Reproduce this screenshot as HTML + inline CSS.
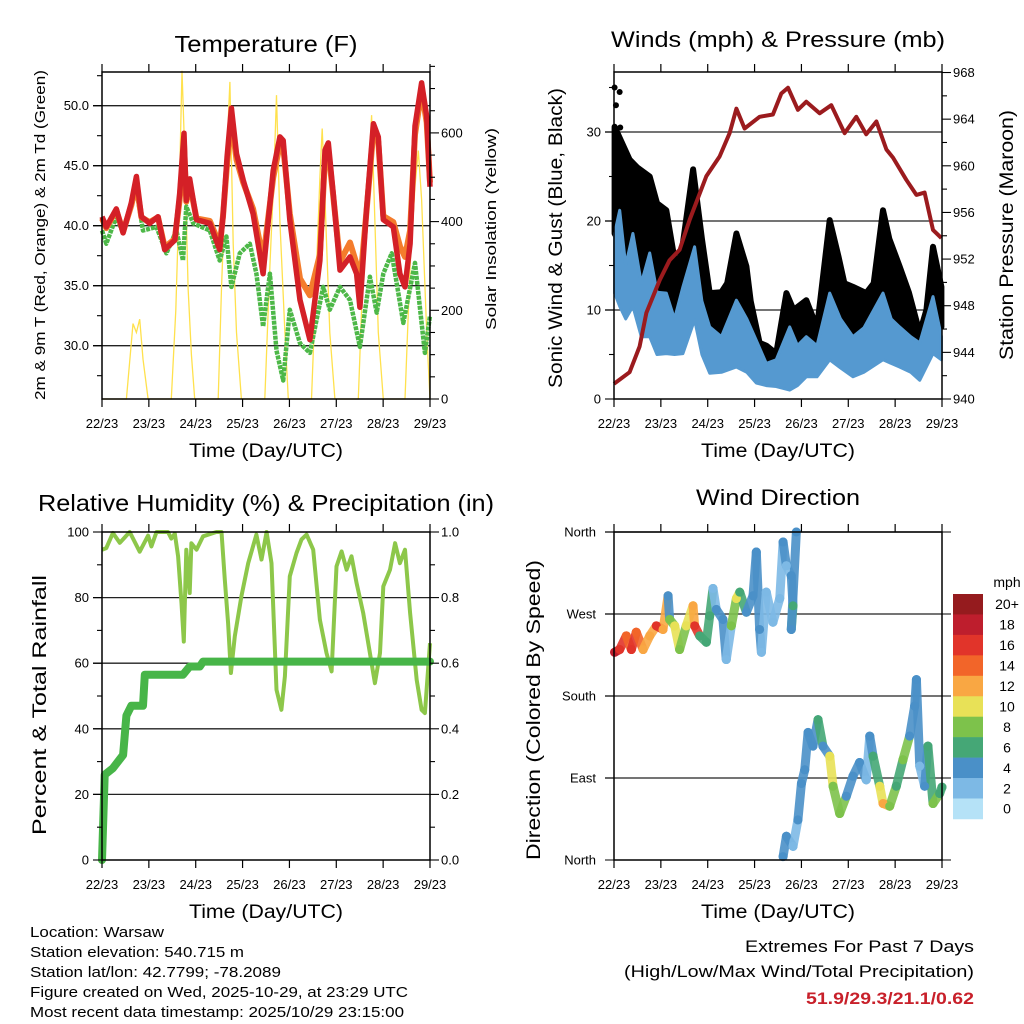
<!DOCTYPE html>
<html><head><meta charset="utf-8"><style>
html,body{margin:0;padding:0;background:#fff;}
svg{display:block;font-family:"Liberation Sans",Arial,sans-serif;}
</style></head><body>
<svg id="c" width="1024" height="1024" viewBox="0 0 1024 1024" xmlns="http://www.w3.org/2000/svg"></svg>
<script>
// ---------- DATA ----------
var dayLabels = ["22/23","23/23","24/23","25/23","26/23","27/23","28/23","29/23"];
// Temperature panel
var tempHours = [0,2.2,7.3,10.8,15.0,17.6,20.2,24.4,28.7,32.1,37.3,39.8,42.0,43.2,44.9,48.4,55.2,60.3,62.0,64.1,66.3,68.9,72.3,77.4,82.5,87.7,91.1,92.8,96.2,101.4,106.5,111.6,114.2,115.9,118.4,121.9,127.0,130.4,132.1,135.5,139.0,141.5,144.1,149.2,152.6,155.2,157.8,160.3,163.7,166.3,168];
var temp2m = [40.75,39.9,41.4,39.4,41.9,44.1,40.75,40.2,40.75,38.0,38.8,42.7,47.7,42.1,43.9,40.5,40.2,38.0,40.75,45.75,49.8,46.0,43.8,41.0,36.0,44.6,47.4,47.1,40.5,33.8,30.5,37.1,46.3,46.9,42.7,36.3,37.4,36.0,33.2,41.3,48.5,47.4,40.5,39.9,36.0,34.9,38.5,48.3,51.9,49.1,43.25];
var temp9m = [40.6,39.8,41.3,39.5,41.7,43.5,40.7,40.3,40.7,38.2,38.9,42.2,46.8,42.0,43.5,40.6,40.4,38.4,40.8,45.2,48.9,45.5,43.6,41.4,37.2,44.0,46.8,46.6,41.0,35.6,34.2,37.6,45.6,46.3,42.5,37.0,38.6,36.8,35.0,41.2,47.9,47.0,40.8,40.3,38.3,37.4,39.6,47.6,51.3,48.6,43.6];
var dewHours = [0,2.2,7.3,10.8,15,17.6,21,27.9,33,38.1,41.5,43.2,46.7,55.2,60.3,63.7,66.3,70.6,75.7,79.1,82.5,86,89.4,92.8,96.2,101.4,106.5,113.3,116.7,121.9,127,132.1,137.2,140.7,144.1,148.4,154.3,160.3,165.4,168];
var dewpoint = [39.6,38.5,40.75,39.4,41.9,43.0,39.6,39.9,37.7,39.6,37.1,41.6,40.2,39.6,37.1,39.1,34.9,37.7,38.5,36.0,31.6,36.0,29.6,27.1,33.0,30.2,29.4,34.9,33.0,34.9,33.8,29.9,35.75,32.75,36.0,37.7,31.9,36.9,29.4,32.5];
var solarHours = [0,12.5,14.5,15.9,17.6,19.3,21,23.6,35.5,37.8,39.5,41,42.4,44.1,45.8,47.5,59.5,61.2,62.9,65.5,67.2,68.9,71.4,83.4,86,88,89.4,91.1,93.7,95.4,107.3,109.9,111.6,112.8,114.2,116.7,119.3,131.3,133.8,136.4,138.1,139.8,141.5,144.1,155.2,157.8,160.3,162,163.7,166.3,168];
var solar = [0,0,100,170,150,180,90,0,0,200,450,740,550,250,100,0,0,250,450,715,350,150,0,0,300,500,685,400,150,0,0,300,500,610,450,150,0,0,300,500,640,400,150,0,0,300,480,560,450,150,0];
// Winds panel
var sustHours = [0.3,2.9,6,9.7,14,18.3,22,26.8,31,35.3,41.3,45,49,55,62.7,68,72.9,78,83.1,90,94,98.5,104,110.5,116,122.4,128,137.8,142,146.3,152,156.6,163.4,167.7];
var sustHigh = [18.6,21.2,15,18.6,13,16.4,12,11.9,9,12.6,17.1,11,8.1,7,11.1,9,6.6,4,4.4,8.1,6,7,6,11.9,9,7,8,11.9,9,8.1,7,6.3,11.5,7];
var sustLow = [11.9,10.4,9,10.4,7,7,5,5.1,5,5.1,8.9,5,2.9,3,3.6,3,1.8,1.5,1.4,1,1.5,2.5,2.5,4.4,3.5,2.5,3,4.4,4,3.6,3,2.1,5.1,4.4];
var gustHours = [0.3,8,12,18.3,22,26.8,31.9,35,40.5,45,49,55,58,62.7,67.8,70,74.6,78,83.1,88.3,92,98.5,104,110.5,115,118,122.4,129.2,133,137.8,141,146.3,151,156.6,160,163.4,167.7];
var gustHigh = [30.6,26.9,26,25,22,21.2,14.5,17,25.8,18,11.9,12,13,18.6,14.9,11,6.3,6,5.1,11.9,10,11.1,8,20.1,16,13,12.6,11.9,13,21.2,18,14.9,12,7.4,10,17.1,12.6];
var gustLow = [18.6,15.6,13,11.9,10,9.6,8.9,9,12.6,8,6.3,6,6,8.1,7.5,5,2.5,2.2,2.1,4.4,4,5.5,4.5,10,8,7,6.3,6,7,11.1,10,8.1,7,4.5,5,9.6,8.1];
var gustOutHours = [0.3,2.9,3.2,1.0];
var gustOut = [35,34.5,30.5,33.0];
var presHours = [0,8,13.1,16.6,23.4,28.5,33.6,38.8,47.3,54.1,59.2,62.7,66.9,74.6,81.4,85.7,89.1,94.2,98.5,105.3,111.3,118.1,124.1,129.2,134.4,139.5,142.9,149.7,154.9,159.1,163.4,167.7];
var pressure = [941.3,942.3,944.5,947.4,950.2,951.9,952.8,955.4,959.1,960.8,962.8,964.9,963.2,964.2,964.4,966.2,966.7,964.8,965.5,964.5,965.2,962.8,964.2,962.7,963.8,961.4,960.7,958.8,957.5,957.7,954.5,953.8];
// RH panel
var rhHours = [0,2.2,5.6,9.1,14.2,19.3,23.6,25.3,27.9,33.8,35.5,37.3,39,40.7,41.9,43.2,44.9,45.8,48.4,51.8,58.6,61.2,62.9,64.6,66,68,71.4,74.9,79.1,81.7,84.3,86.8,89.4,91.9,93.7,96.2,99.6,102.2,104.8,108.2,111.6,115,117.6,120.1,122.7,125.3,127.8,130.4,133.8,137.2,139.8,142.4,144.1,147.5,150.1,152.6,155.2,157.8,161.2,163.7,165.4,168];
var rh = [94.6,95.1,99.7,96.7,100,94,98.9,95.6,100,100,98,99.5,92.6,78.3,66.6,94.6,81.4,96.6,94.6,98.7,100,100,85.5,72.2,57,68.2,80.4,90.5,99.2,91.6,100,90.5,51.9,45.8,56,86.5,93.6,97.7,99.2,94.6,73.2,63.1,57.5,89.5,94.1,88.5,92.6,84.4,75.3,63.1,53.9,63.1,83.4,88.5,96.6,90.5,94.6,75.3,54.9,45.8,44.8,66.1];
var precipHours = [0,1.4,5.6,10.8,12.5,15,21,21.9,41.5,44.9,50.1,51.8,168];
var precip = [0,0.26,0.28,0.32,0.44,0.47,0.47,0.565,0.565,0.59,0.59,0.605,0.605];
// Wind direction panel (two segments)
var dirHoursA = [0.3,2.9,6.3,8.9,11.4,14.9,18.3,21.7,25.1,27.7,28.5,31.1,33.6,37,40.5,41.3,43.9,47.3,49,50.7,52.4,55.8,57.5,60.1,62.7,64.4,67.8,71.2,72.9,74.6,75.5,78,81.4,84.9,86.6,88.3,90.8,91.7,90.8,93.4];
var dirA = [228,231,246,231,250,231,246,257,253,290,264,257,231,257,279,257,246,239,268,298,275,264,220,257,287,294,272,290,338,253,228,294,261,287,349,323,312,279,253,360];
var spdA = [19,16,14,17,14,12,13,16,12,4,8,10,9,10,12,16,7,7,6,3,4,4,3,8,10,6,5,4,4,4,3,2,2,2,4,3,4,6,5,4];
var dirHoursB = [86.6,88.3,91.7,94.2,96.0,97.7,99.4,101.9,104.5,107,110.5,112.2,115.6,119,122.4,125.8,129.2,131,132.7,136.1,137.8,141.2,144.6,148,151.4,154,154.9,156.6,159.1,160.8,163.4,166.8,168];
var dirB = [3.7,26,15,44,84,99,140,125,154,125,114,81,51,70,92,107,88,136,114,81,62,59,81,110,136,169,198,103,81,125,62,73,80];
var spdB = [4,4,3,4,4,4,4,4,6,4,10,8,9,5,4,4,3,4,6,10,13,9,6,8,5,4,4,3,4,7,8,6,6];
var cbLabels = ["0","2","4","6","8","10","12","14","16","18","20+"];
var cbColors = ["#B5E2F7","#7DB9E5","#4A90C8","#45A776","#7DC24B","#E8E157","#F9A743","#F26529","#E1342A","#BE1E2D","#951B1E"];

// ---------- HELPERS ----------
var NS="http://www.w3.org/2000/svg", svg=document.getElementById('c');
function el(tag, attrs, parent){var e=document.createElementNS(NS,tag);for(var k in attrs)e.setAttribute(k,attrs[k]);(parent||svg).appendChild(e);return e;}
function txt(s, attrs, parent){var e=el('text',attrs,parent);e.textContent=s;return e;}
function pathOf(xs, ys, fx, fy){var d='';for(var i=0;i<xs.length;i++){d+=(i?'L':'M')+fx(xs[i]).toFixed(1)+' '+fy(ys[i]).toFixed(1);}return d;}
function bandOf(xs, hi, lo, fx, fy){var d='';for(var i=0;i<xs.length;i++)d+=(i?'L':'M')+fx(xs[i]).toFixed(1)+' '+fy(hi[i]).toFixed(1);for(var j=xs.length-1;j>=0;j--)d+='L'+fx(xs[j]).toFixed(1)+' '+fy(lo[j]).toFixed(1);return d+'Z';}
function spdColor(s){var i=Math.min(10,Math.max(0,Math.floor(s/2)));return cbColors[i];}

function panel(opt){
  var g=el('g',{});
  
  
  var L=opt.L,R=opt.R;
  opt.grid.forEach(function(y){var l=el('line',{x1:L-9,x2:R,y1:y,y2:y,stroke:'#222','stroke-width':1.3},g);});
  return g;
}
function frame(g,L,R,T,B){
  var r=el('rect',{x:L,y:T,width:R-L,height:B-T,fill:'none',stroke:'#000','stroke-width':1.5},g);
  
  var xs=function(h){return L+h*(R-L)/168;};
  for(var d=0;d<8;d++){var x=xs(d*24);
    el('line',{x1:x,x2:x,y1:B,y2:B+8,stroke:'#000','stroke-width':1.2},g);
    el('line',{x1:x,x2:x,y1:T,y2:T-8,stroke:'#000','stroke-width':1.2},g);
    var t=txt(dayLabels[d],{x:x,y:B+29,'font-size':13,'text-anchor':'middle'},g);
    
  }
}
function leftTicks(g,L,vals,fy,fmt,major){vals.forEach(function(v){var y=fy(v);var mj=major(v);el('line',{x1:L-(mj?9:5),x2:L,y1:y,y2:y,stroke:'#000','stroke-width':1.1},g);if(mj){var t=txt(fmt(v),{x:L-13,y:y+4.5,'font-size':13,'text-anchor':'end'},g);}});}
function rightTicks(g,R,vals,fy,fmt,major){vals.forEach(function(v){var y=fy(v);var mj=major(v);el('line',{x1:R,x2:R+(mj?9:5),y1:y,y2:y,stroke:'#000','stroke-width':1.1},g);if(mj){var t=txt(fmt(v),{x:R+11,y:y+4.5,'font-size':13,'text-anchor':'start'},g);}});}
function title(s,x,y,len,size,name){var t=txt(s,{x:x,y:y,'font-size':size,'text-anchor':'middle',textLength:len,lengthAdjust:'spacingAndGlyphs'});return t;}
function vtitle(s,x,y,len,size,name){var t=txt(s,{x:0,y:0,'font-size':size,'text-anchor':'middle',textLength:len,lengthAdjust:'spacingAndGlyphs',transform:'translate('+x+','+y+') rotate(-90)'});return t;}

// ---------- PANEL 1: TEMPERATURE ----------
(function(){
  var L=102,R=430,T=72,B=399;
  var x=function(h){return L+h*(R-L)/168;};
  var yT=function(t){return 105.7+(50-t)*12;};
  var yS=function(s){return B-s*0.4435;};
  var g=panel({name:'temperature-panel',L:L,R:R,T:T,B:B,grid:[50,45,40,35,30].map(yT)});
  var p;
  p=el('path',{d:pathOf(solarHours,solar,x,yS),fill:'none',stroke:'#FFE14D','stroke-width':1.3},g);
  p=el('path',{d:pathOf(dewHours,dewpoint,x,yT),fill:'none',stroke:'#4DB848','stroke-width':4.5,'stroke-dasharray':'4 1','stroke-linejoin':'round'},g);
  p=el('path',{d:pathOf(tempHours,temp9m,x,yT),fill:'none',stroke:'#F47C2C','stroke-width':6,'stroke-linejoin':'round'},g);
  p=el('path',{d:pathOf(tempHours,temp2m,x,yT),fill:'none',stroke:'#D42027','stroke-width':5.5,'stroke-linejoin':'round'},g);
  frame(g,L,R,T,B);
  var tv=[];for(var v=27.5;v<=52.6;v+=2.5)tv.push(v);
  leftTicks(g,L,tv,yT,function(v){return v.toFixed(1);},function(v){return Math.abs(v%5)<0.01;});
  var sv=[];for(var s=0;s<=750;s+=50)sv.push(s);
  rightTicks(g,R,sv,yS,function(v){return String(v);},function(v){return v%200===0;});
  title('Temperature (F)',266,52,183,23,'temperature-title');
  title('Time (Day/UTC)',266,457,154,19,'temperature-x-title');
  vtitle('2m & 9m T (Red, Orange) & 2m Td (Green)',45,235,330,15,'temperature-y-title');
  vtitle('Solar Insolation (Yellow)',496,229,202,15,'solar-y-title');
})();

// ---------- PANEL 2: WINDS ----------
(function(){
  var L=614,R=942,T=72,B=399;
  var x=function(h){return L+h*(R-L)/168;};
  var yW=function(w){return B-w*8.9;};
  var yP=function(p){return B-(p-940)*11.66;};
  var g=panel({name:'winds-panel',L:L,R:R,T:T,B:B,grid:[30,20,10].map(yW)});
  var p;
  p=el('path',{d:bandOf(gustHours,gustHigh,gustLow,x,yW),fill:'#000',stroke:'#000','stroke-width':6,'stroke-linejoin':'round'},g);
  for(var i=0;i<gustOut.length;i++){var c=el('circle',{cx:x(gustOutHours[i]),cy:yW(gustOut[i]),r:3,fill:'#000'},g);}
  p=el('path',{d:bandOf(sustHours,sustHigh,sustLow,x,yW),fill:'#5599D0',stroke:'#5599D0','stroke-width':3,'stroke-linejoin':'round'},g);
  p=el('path',{d:pathOf(presHours,pressure,x,yP),fill:'none',stroke:'#9B1B1E','stroke-width':4,'stroke-linejoin':'round'},g);
  frame(g,L,R,T,B);
  var wv=[];for(var w=0;w<=36;w+=5)wv.push(w);
  leftTicks(g,L,wv,yW,function(v){return String(v);},function(v){return v%10===0;});
  var pv=[];for(var q=940;q<=968;q+=2)pv.push(q);
  rightTicks(g,R,pv,yP,function(v){return String(v);},function(v){return v%4===0;});
  title('Winds (mph) & Pressure (mb)',778,47,334,22,'winds-title');
  title('Time (Day/UTC)',778,457,154,19,'winds-x-title');
  vtitle('Sonic Wind & Gust (Blue, Black)',562,238,300,19,'winds-y-title');
  vtitle('Station Pressure (Maroon)',1013,235,250,19,'pressure-y-title');
})();

// ---------- PANEL 3: RH & PRECIP ----------
(function(){
  var L=102,R=430,T=532,B=860;
  var x=function(h){return L+h*(R-L)/168;};
  var yR=function(r){return B-r*3.28;};
  var yPr=function(p){return B-p*328;};
  var g=panel({name:'humidity-panel',L:L,R:R,T:T,B:B,grid:[80,60,40,20].map(yR)});
  var p;
  p=el('path',{d:pathOf(rhHours,rh,x,yR),fill:'none',stroke:'#8DC74A','stroke-width':4,'stroke-linejoin':'round'},g);
  p=el('path',{d:pathOf(precipHours,precip,x,yPr),fill:'none',stroke:'#47B548','stroke-width':8,'stroke-linejoin':'round','stroke-linecap':'round'},g);
  frame(g,L,R,T,B);
  var rv=[];for(var r=0;r<=100;r+=10)rv.push(r);
  leftTicks(g,L,rv,yR,function(v){return String(v);},function(v){return v%20===0;});
  var qv=[];for(var q=0;q<=10;q++)qv.push(q/10);
  rightTicks(g,R,qv,yPr,function(v){return v.toFixed(1);},function(v){return Math.round(v*10)%2===0;});
  title('Relative Humidity (%) & Precipitation (in)',266,511,456,23,'humidity-title');
  title('Time (Day/UTC)',266,918,154,19,'humidity-x-title');
  vtitle('Percent & Total Rainfall',46,705,260,19,'humidity-y-title');
})();

// ---------- PANEL 4: WIND DIRECTION ----------
(function(){
  var L=614,R=942,T=532,B=860;
  var x=function(h){return L+h*(R-L)/168;};
  var yD=function(d){return B-d*(B-T)/360;};
  var g=panel({name:'wind-direction-panel',L:L,R:R,T:T,B:B,grid:[360,270,180,90].map(yD)});
  function series(hs,ds,ss){
    for(var i=0;i<hs.length-1;i++){var l=el('line',{x1:x(hs[i]),y1:yD(ds[i]),x2:x(hs[i+1]),y2:yD(ds[i+1]),stroke:spdColor(ss[i]),'stroke-width':9,'stroke-linecap':'round','stroke-opacity':0.9},g);}
    for(var j=0;j<hs.length;j++){var c=el('circle',{cx:x(hs[j]),cy:yD(ds[j]),r:4.5,fill:spdColor(ss[j])},g);}
  }
  series(dirHoursA,dirA,spdA);
  series(dirHoursB,dirB,spdB);
  frame(g,L,R,T,B);
  var names=['North','East','South','West','North'];
  [0,90,180,270,360].forEach(function(d,i){var y=yD(d);el('line',{x1:L-9,x2:L,y1:y,y2:y,stroke:'#000'},g);el('line',{x1:R,x2:R+9,y1:y,y2:y,stroke:'#000'},g);var t=txt(names[i],{x:L-18,y:y+4.5,'font-size':13,'text-anchor':'end'},g);});
  title('Wind Direction',778,505,164,22,'wind-direction-title');
  title('Time (Day/UTC)',778,918,154,19,'wind-direction-x-title');
  vtitle('Direction (Colored By Speed)',540,710,300,19,'wind-direction-y-title');
  var cb=el('g',{});
  
  var top=594,h=20.45;
  for(var k=0;k<cbLabels.length;k++){var idx=cbLabels.length-1-k;var yy=top+k*h;
    var r=el('rect',{x:953,y:yy,width:30,height:h+0.3,fill:cbColors[idx]},cb);
    var t=txt(cbLabels[idx],{x:1007,y:yy+h/2+5,'font-size':14,'text-anchor':'middle'},cb);}
  var u=txt('mph',{x:1007,y:587,'font-size':14,'text-anchor':'middle'},cb);
})();

// ---------- FOOTER ----------
(function(){
  var lines=['Location: Warsaw','Station elevation: 540.715 m','Station lat/lon: 42.7799; -78.2089','Figure created on Wed, 2025-10-29, at 23:29 UTC','Most recent data timestamp: 2025/10/29 23:15:00'];
  var lens=[134,214,251,378,374];
  lines.forEach(function(s,i){var t=txt(s,{x:30,y:937+i*20,'font-size':15,textLength:lens[i],lengthAdjust:'spacingAndGlyphs'});});
  var a=txt('Extremes For Past 7 Days',{x:974,y:952,'font-size':17,'text-anchor':'end',textLength:229,lengthAdjust:'spacingAndGlyphs'});
  var b=txt('(High/Low/Max Wind/Total Precipitation)',{x:974,y:977,'font-size':17,'text-anchor':'end',textLength:350,lengthAdjust:'spacingAndGlyphs'});
  var c=txt('51.9/29.3/21.1/0.62',{x:974,y:1004,'font-size':17,'font-weight':'bold',fill:'#C8202A','text-anchor':'end',textLength:168,lengthAdjust:'spacingAndGlyphs'});
})();
</script>
</body></html>
